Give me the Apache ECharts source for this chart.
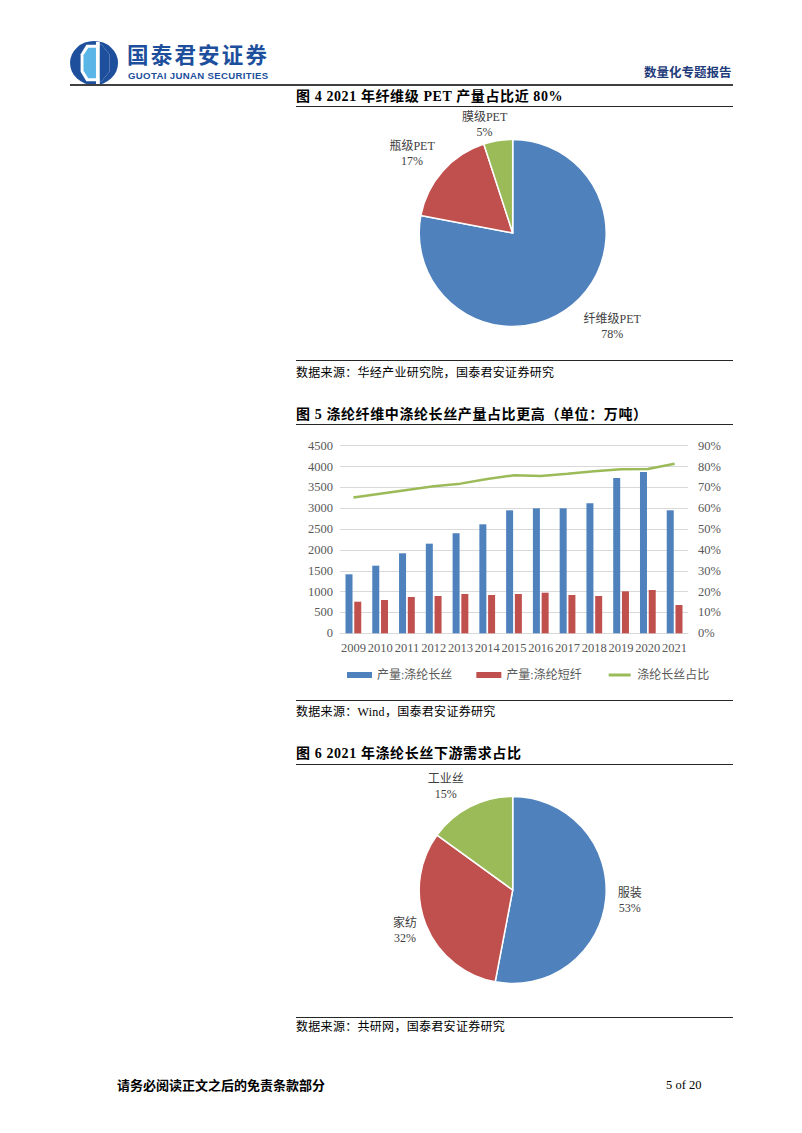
<!DOCTYPE html>
<html><head><meta charset="utf-8">
<script src="https://cdn.jsdelivr.net/npm/echarts@6/dist/echarts.min.js"></script>
<style>
html,body{margin:0;padding:0;background:#fff;}
body{width:802px;height:1133px;position:relative;overflow:hidden;font-family:"Liberation Serif","Noto Sans CJK SC",serif;}
.t{position:absolute;white-space:nowrap;line-height:1;}
.rule{position:absolute;height:0;border-top:1.5px solid #262626;}
.title{font-weight:bold;font-size:14px;color:#000;letter-spacing:0.6px;transform:translateY(-50%);}
.src{font-size:12px;color:#000;transform:translateY(-50%);letter-spacing:0.3px;}
.chart{position:absolute;}
</style></head>
<body>
<!-- header -->
<svg style="position:absolute;left:68px;top:39px" width="54" height="48" viewBox="0 0 54 50">
  <ellipse cx="26" cy="25" rx="25" ry="23" fill="#1d4f9c"/>
  <path d="M18 6 L34 6 L42 16 L42 34 L34 44 L18 44 L12 34 L12 16 Z" fill="#fff"/>
  <path d="M20 9 L32 9 L38 17 L38 33 L32 41 L20 41 L15 33 L15 17 Z" fill="#59b6e6"/>
  <rect x="28" y="3" width="4" height="44" fill="#fff"/>
  <path d="M32 6 L34 6 L42 16 L42 34 L34 44 L32 44 Z" fill="#1d4f9c"/>
</svg>
<div class="t" style="left:127px;top:43px;font-family:'Noto Sans CJK SC';font-weight:bold;font-size:21.5px;color:#1d4f9c;letter-spacing:2.2px;">国泰君安证券</div>
<div class="t" style="left:128px;top:71px;font-family:'Liberation Sans';font-weight:bold;font-size:9.6px;color:#1d4f9c;letter-spacing:0.35px;">GUOTAI JUNAN SECURITIES</div>
<div class="t" style="left:644px;top:66px;font-family:'Noto Sans CJK SC';font-weight:bold;font-size:12.5px;color:#1f3c7a;">数量化专题报告</div>
<div class="rule" style="left:70px;top:84px;width:663px;border-top:2px solid #404040;"></div>

<!-- figure 4 -->
<div class="t title" style="left:296px;top:97px;">图 4 2021 年纤维级 PET 产量占比近 80%</div>
<div class="rule" style="left:296px;top:106px;width:437px;"></div>
<div id="c1" class="chart" style="left:296px;top:108px;width:437px;height:252px;"></div>
<div class="rule" style="left:296px;top:360px;width:437px;"></div>
<div class="t src" style="left:296px;top:373px;">数据来源：华经产业研究院，国泰君安证券研究</div>

<!-- figure 5 -->
<div class="t title" style="left:296px;top:415px;">图 5 涤纶纤维中涤纶长丝产量占比更高（单位：万吨）</div>
<div class="rule" style="left:296px;top:424px;width:437px;"></div>
<div id="c2" class="chart" style="left:296px;top:425px;width:437px;height:275px;"></div>
<div class="rule" style="left:296px;top:700px;width:437px;"></div>
<div class="t src" style="left:296px;top:712px;">数据来源：Wind，国泰君安证券研究</div>

<!-- figure 6 -->
<div class="t title" style="left:296px;top:754px;">图 6 2021 年涤纶长丝下游需求占比</div>
<div class="rule" style="left:296px;top:764px;width:437px;"></div>
<div id="c3" class="chart" style="left:296px;top:765px;width:437px;height:252px;"></div>
<div class="rule" style="left:296px;top:1017px;width:437px;"></div>
<div class="t src" style="left:296px;top:1027px;">数据来源：共研网，国泰君安证券研究</div>

<!-- footer -->
<div class="t" style="left:117px;top:1078px;font-family:'Noto Sans CJK SC';font-weight:bold;font-size:13px;color:#000;">请务必阅读正文之后的免责条款部分</div>
<div class="t" style="left:666px;top:1079px;font-size:12.5px;color:#000;">5 of 20</div>

<script>
// ---- data ----
const pet_names = ['纤维级PET', '瓶级PET', '膜级PET'];
const pet_values = [78, 17, 5];

const years = ['2009','2010','2011','2012','2013','2014','2015','2016','2017','2018','2019','2020','2021'];
const filament = [1415, 1622, 1919, 2150, 2400, 2614, 2950, 2998, 2998, 3118, 3725, 3869, 2950];
const staple = [758, 799, 871, 895, 943, 919, 943, 974, 919, 895, 1007, 1039, 679];
const filamentShare = [65.1, 67.0, 68.8, 70.6, 71.8, 74.0, 75.8, 75.5, 76.5, 77.7, 78.7, 78.8, 81.3];
const seriesNames = ['产量:涤纶长丝', '产量:涤纶短纤', '涤纶长丝占比'];

const use_names = ['服装', '家纺', '工业丝'];
const use_values = [53, 32, 15];

// ---- styles ----
const COLORS = ['#4F81BD', '#C0504D', '#9BBB59'];
const FONT = '"Liberation Serif","Noto Sans CJK SC",serif';
const pet_label_lines = [{length: 28, length2: 17}, {length: 26, length2: 6}, {length: 16, length2: 6}];
const use_label_lines = [{length: 19, length2: 0}, {length: 17, length2: 0}, {length: 23, length2: 9}];

function pieOption(names, values, lines) {
  return {
    animation: false,
    color: COLORS,
    series: [{
      type: 'pie',
      center: [216.7, 125],
      radius: 93.5,
      startAngle: 90,
      clockwise: true,
      avoidLabelOverlap: false,
      itemStyle: {borderColor: '#fff', borderWidth: 1.5},
      label: {
        show: true, position: 'outside', distanceToLabelLine: 5,
        formatter: p => p.name + '\n' + p.value + '%',
        fontFamily: FONT, fontSize: 12, color: '#404040', lineHeight: 15
      },
      labelLine: {show: false},
      labelLayout: {align: 'center', verticalAlign: 'middle'},
      emphasis: {disabled: true},
      data: names.map((n, i) => ({name: n, value: values[i], labelLine: Object.assign({show: false}, lines[i])}))
    }]
  };
}

const c1 = echarts.init(document.getElementById('c1'), null, {renderer: 'svg'});
c1.setOption(pieOption(pet_names, pet_values, pet_label_lines));

const c3 = echarts.init(document.getElementById('c3'), null, {renderer: 'svg'});
c3.setOption(pieOption(use_names, use_values, use_label_lines));

const axisLabel = {fontFamily: FONT, fontSize: 12.5, color: '#595959'};
const c2 = echarts.init(document.getElementById('c2'), null, {renderer: 'svg'});
c2.setOption({
  animation: false,
  color: COLORS,
  grid: {left: 44, right: 45, top: 20.7, bottom: 66.7},
  legend: {
    left: 46, top: 239, itemWidth: 25, itemHeight: 6, itemGap: 24,
    textStyle: {fontFamily: FONT, fontSize: 12, color: '#595959'},
    data: [
      {name: seriesNames[0], icon: 'rect'},
      {name: seriesNames[1], icon: 'rect'},
      {name: seriesNames[2], icon: 'rect',
       itemStyle: {color: COLORS[2], borderColor: '#fff', borderWidth: 3}}
    ]
  },
  xAxis: {
    type: 'category', data: years,
    axisTick: {show: false},
    axisLine: {lineStyle: {color: '#D9D9D9'}},
    axisLabel: Object.assign({interval: 0, margin: 8}, axisLabel)
  },
  yAxis: [
    {type: 'value', min: 0, max: 4500, interval: 500,
     axisLabel: Object.assign({margin: 7, formatter: v => String(v)}, axisLabel),
     splitLine: {lineStyle: {color: '#D9D9D9'}}},
    {type: 'value', min: 0, max: 90, interval: 10,
     axisLabel: Object.assign({margin: 10, formatter: v => v + '%'}, axisLabel),
     splitLine: {show: false}}
  ],
  series: [
    {name: seriesNames[0], type: 'bar', data: filament, barWidth: 7, barGap: '25%'},
    {name: seriesNames[1], type: 'bar', data: staple, barWidth: 7, barGap: '25%'},
    {name: seriesNames[2], type: 'line', yAxisIndex: 1, data: filamentShare,
     symbol: 'none', lineStyle: {width: 2.5, color: COLORS[2]}}
  ]
});
</script>
</body></html>
